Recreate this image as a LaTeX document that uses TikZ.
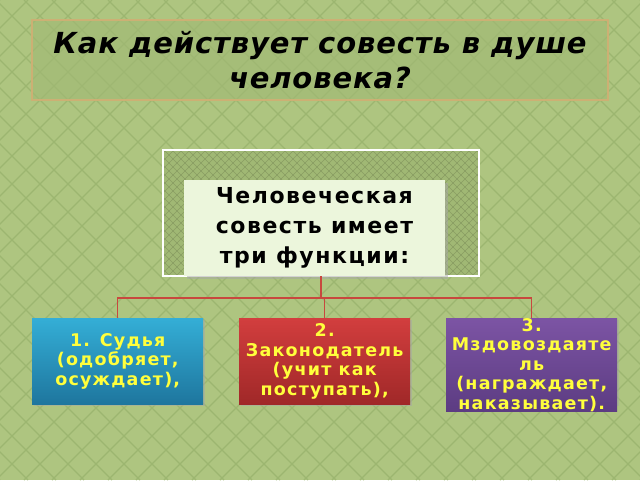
\documentclass[tikz,border=0pt]{standalone}
\usepackage{fontspec}
\setmainfont{DejaVu Sans}
\newfontfamily\titlefont[LetterSpace=3]{DejaVu Sans}
\newfontfamily\corefont[LetterSpace=7]{DejaVu Sans}
\newfontfamily\funcfont[LetterSpace=7]{DejaVu Sans}
\definecolor{bggreen}{RGB}{174,197,128}
\definecolor{hatchgreen}{RGB}{156,182,112}
\definecolor{panelgreen}{RGB}{160,184,116}
\definecolor{titleline}{RGB}{204,176,116}
\definecolor{corefill}{RGB}{236,246,220}
\definecolor{linkred}{RGB}{200,72,62}
\definecolor{yellowtxt}{RGB}{255,255,60}
\begin{document}
\begin{tikzpicture}[x=1pt,y=-1pt]
    \tikzstyle{hatch}=[hatchgreen, line width=1.2pt]
    \tikzstyle{finehatch}=[black!40!hatchgreen, line width=0.6pt, opacity=0.35]
    \tikzstyle{func}=[anchor=north west, minimum width=171pt, minimum height=86pt, inner sep=0pt, text=yellowtxt, align=center, font=\funcfont\bfseries\fontsize{17.5}{19.5}\selectfont]
    \tikzstyle{link}=[linkred, line width=1.5pt]
    % background
    \fill[bggreen] (0,0) rectangle (640,480);
    \begin{scope}
      \clip (0,0) rectangle (640,480);
      \foreach \i in {-480,-452,...,640} {
        \draw[hatch] (\i,0) -- ++(480,480);
        \draw[hatch] (\i+480,0) -- ++(-480,480);
      }
    \end{scope}
    % title
    \node[draw=titleline, line width=1.5pt, fill=panelgreen, fill opacity=0.6, text opacity=1, minimum width=576pt, minimum height=80pt, align=center, font=\titlefont\bfseries\itshape\fontsize{29}{35}\selectfont] (title) at (320,60) {Как действует совесть в душе\\человека?};
    % central block
    \node[fill=panelgreen, minimum width=316pt, minimum height=126pt] (frame) at (321,213) {};
    \begin{scope}
      \clip (frame.north west) rectangle (frame.south east);
      \foreach \i in {-140,-132,...,480} {
        \draw[finehatch] (\i,150) -- ++(130,130);
        \draw[finehatch] (\i+130,150) -- ++(-130,130);
      }
    \end{scope}
    \draw[white, line width=2pt] (frame.north west) rectangle (frame.south east);
    \fill[black!35, opacity=0.5] (187,183) rectangle (448,279);
    \node[fill=corefill, minimum width=261pt, minimum height=96pt, align=center, font=\corefont\bfseries\fontsize{22}{30}\selectfont] (core) at (314.5,228) {Человеческая\\совесть имеет\\три функции:};
    % three functions
    \fill[black!35, opacity=0.5] (34,320) rectangle (205,406);
    \fill[black!35, opacity=0.5] (241,320) rectangle (412,406);
    \fill[black!35, opacity=0.5] (448,320) rectangle (619,406);
    \node[func, top color={rgb,255:red,52;green,174;blue,214}, bottom color={rgb,255:red,30;green,118;blue,158}] (f1) at (32,318) {1. Судья\\(одобряет,\\осуждает),};
    \node[func, top color={rgb,255:red,210;green,62;blue,62}, bottom color={rgb,255:red,160;green,40;blue,40}] (f2) at (239,318) {2.\\Законодатель\\(учит как\\поступать),};
    \node[func, top color={rgb,255:red,124;green,84;blue,164}, bottom color={rgb,255:red,92;green,60;blue,130}] (f3) at (446,318) {3.\\Мздовоздаяте\\ль\\(награждает,\\наказывает).};
    % connectors
    \draw[link] (frame.south) -- ++(0,22) coordinate (hub);
    \draw[link] (f1.north) |- (hub) -| (f3.north);
    \draw[link] (f2.north) -- (f2.north |- hub);
\end{tikzpicture}
\end{document}
